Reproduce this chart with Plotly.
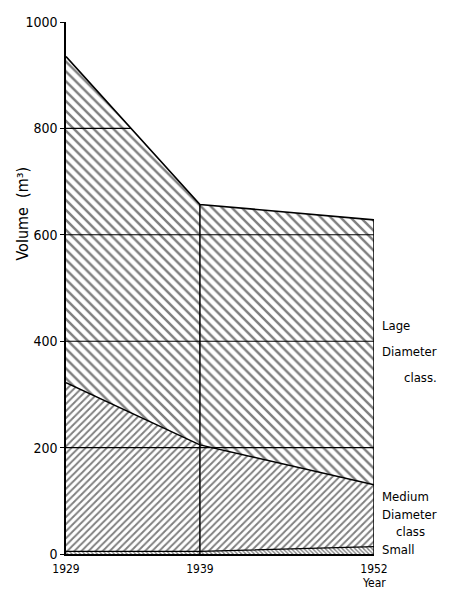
import numpy as np
import plotly.graph_objects as go

years = [1929, 1939, 1952]
small = [5, 5, 14]
medium = [317, 200, 116]      # medium class (stacked on small)
large = [613, 452, 498]       # large class (stacked on medium)
ytick_vals = [0, 200, 400, 600, 800, 1000]
grid_levels = [200, 400, 600, 800]

FONT = "DejaVu Sans Condensed, Liberation Sans Narrow, sans-serif"

small_top = np.array(small)
medium_top = small_top + np.array(medium)
total = medium_top + np.array(large)

fig = go.Figure()
fig.add_trace(go.Scatter(x=years, y=small, stackgroup="v", mode="lines",
                         line=dict(color="black", width=1.2),
                         fillcolor="white",
                         fillpattern=dict(shape="\\", size=3, solidity=0.45,
                                          fgcolor="black", bgcolor="white"),
                         name="Small"))
fig.add_trace(go.Scatter(x=years, y=medium, stackgroup="v", mode="lines",
                         line=dict(color="black", width=1.4),
                         fillcolor="white",
                         fillpattern=dict(shape="/", size=5, solidity=0.38,
                                          fgcolor="black", bgcolor="white"),
                         name="Medium"))
fig.add_trace(go.Scatter(x=years, y=large, stackgroup="v", mode="lines",
                         line=dict(color="black", width=1.7),
                         fillcolor="white",
                         fillpattern=dict(shape="\\", size=7, solidity=0.35,
                                          fgcolor="black", bgcolor="white"),
                         name="Large"))

# horizontal grid lines clipped to the total area
xs_fine = np.linspace(years[0], years[-1], 2301)
tot_fine = np.interp(xs_fine, years, total)
for lvl in grid_levels:
    inside = xs_fine[tot_fine >= lvl]
    fig.add_trace(go.Scatter(x=[inside.min(), inside.max()], y=[lvl, lvl],
                             mode="lines", line=dict(color="black", width=1.1),
                             hoverinfo="skip", showlegend=False))

# vertical lines at 1939 and 1952 up to total
for i in [1, 2]:
    fig.add_trace(go.Scatter(x=[years[i], years[i]], y=[0, total[i]],
                             mode="lines", line=dict(color="black", width=1.5),
                             hoverinfo="skip", showlegend=False))

labels = [("Lage", 430, 0), ("Diameter", 380, 0), ("class.", 331, 22),
          ("Medium", 109, 0), ("Diameter", 75, 0), ("class", 43, 14),
          ("Small", 8, 0)]
for txt, yv, dx in labels:
    fig.add_annotation(x=years[-1], y=yv, xref="x", yref="y", text=txt,
                       showarrow=False, xanchor="left", yanchor="middle",
                       xshift=6 + dx, font=dict(family=FONT, size=13, color="black"))

fig.add_annotation(x=years[-1], y=0, xref="x", yref="y", text="Year",
                   showarrow=False, xanchor="center", yanchor="middle", yshift=-29,
                   font=dict(family=FONT, size=12, color="black"))

fig.add_annotation(x=0, y=640, xref="paper", yref="y", text="Volume  (m³)",
                   showarrow=False, textangle=-90, xanchor="center", yanchor="middle",
                   xshift=-43, font=dict(family=FONT, size=16, color="black"))

fig.update_layout(
    width=451, height=589,
    margin=dict(l=66, r=77, t=22, b=35),
    paper_bgcolor="white", plot_bgcolor="white",
    showlegend=False,
    font=dict(family=FONT, size=13, color="black"),
    xaxis=dict(range=[years[0], years[-1]], tickvals=years, ticktext=[str(y) for y in years],
               showgrid=False, zeroline=False, showline=True, linecolor="black",
               linewidth=1.5, ticks="", ticklabelstandoff=3, automargin=False,
               tickfont=dict(family=FONT, size=12)),
    yaxis=dict(range=[0, 1000], tickvals=ytick_vals, showgrid=False, zeroline=False,
               showline=True, linecolor="black", linewidth=1.5, ticks="outside",
               ticklen=4, tickcolor="black", automargin=False,
               tickfont=dict(family=FONT, size=14)),
)

fig.write_html("out.html", config={"displayModeBar": False},
               post_script="document.body.style.margin='0';document.body.style.overflow='hidden';")
